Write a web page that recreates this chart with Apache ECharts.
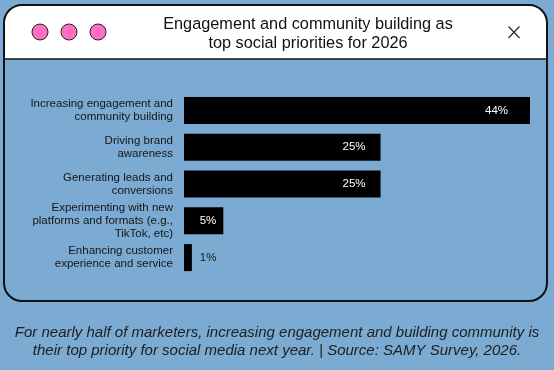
<!DOCTYPE html>
<html>
<head>
<meta charset="utf-8">
<script src="https://cdn.jsdelivr.net/npm/echarts@6/dist/echarts.min.js"></script>
<style>
html,body{margin:0;padding:0;background:#7BAAD2;}
#chart{width:554px;height:370px;}
</style>
</head>
<body>
<div id="chart"></div>
<script>
const categories = [
  "Increasing engagement and\ncommunity building",
  "Driving brand\nawareness",
  "Generating leads and\nconversions",
  "Experimenting with new\nplatforms and formats (e.g.,\nTikTok, etc)",
  "Enhancing customer\nexperience and service"
];
const values = [44, 25, 25, 5, 1];
const valueLabels = ["44%", "25%", "25%", "5%", "1%"];
const titleText = "Engagement and community building as\ntop social priorities for 2026";
const footerText = "For nearly half of marketers, increasing engagement and building community is\ntheir top priority for social media next year. | Source: SAMY Survey, 2026.";

const FONT = "Liberation Sans, Arial, Helvetica, sans-serif";
const BG = "#7BAAD2";
const PINK = "#FF70C4";

const chart = echarts.init(document.getElementById('chart'), null, {renderer: 'canvas'});

const data = values.map((v, i) => {
  const small = v < 3;
  return {
    value: v,
    label: small ? {
      position: 'right', distance: 8, color: '#1b1b1b'
    } : {
      position: 'insideRight', distance: Math.round(5 + v * 0.38), color: '#ffffff'
    }
  };
});

chart.setOption({
  backgroundColor: BG,
  animation: false,
  title: [{
    text: titleText,
    left: 308, top: 15.5, textAlign: 'center', padding: 0,
    textStyle: {fontFamily: FONT, fontSize: 16.3, fontWeight: 'normal', color: '#111111', lineHeight: 18.5}
  }, {
    text: footerText,
    left: 277, top: 324, textAlign: 'center', padding: 0,
    textStyle: {fontFamily: FONT, fontSize: 15, fontStyle: 'italic', fontWeight: 'normal', color: '#1e1e1e', lineHeight: 18}
  }],
  graphic: [
    {type: 'rect', z: -1, shape: {x: 4, y: 5, width: 543, height: 54, r: [18, 18, 0, 0]}, style: {fill: '#ffffff', stroke: null}},
    {type: 'rect', z: 0, shape: {x: 4, y: 5, width: 543, height: 296, r: 18}, style: {fill: 'none', stroke: '#111111', lineWidth: 2}},
    {type: 'line', z: 0, shape: {x1: 4, y1: 59, x2: 547, y2: 59}, style: {stroke: '#111111', lineWidth: 1.5}},
    {type: 'circle', z: 1, shape: {cx: 40, cy: 32, r: 8}, style: {fill: PINK, stroke: '#222222', lineWidth: 1}},
    {type: 'circle', z: 1, shape: {cx: 69, cy: 32, r: 8}, style: {fill: PINK, stroke: '#222222', lineWidth: 1}},
    {type: 'circle', z: 1, shape: {cx: 98, cy: 32, r: 8}, style: {fill: PINK, stroke: '#222222', lineWidth: 1}},
    {type: 'line', z: 1, shape: {x1: 508.5, y1: 26.5, x2: 519.5, y2: 38}, style: {stroke: '#222222', lineWidth: 1.1}},
    {type: 'line', z: 1, shape: {x1: 519.5, y1: 26.5, x2: 508.5, y2: 38}, style: {stroke: '#222222', lineWidth: 1.1}}
  ],
  grid: {left: 184, right: 24, top: 92, height: 184, containLabel: false},
  xAxis: {
    type: 'value', min: 0, max: 44, show: false
  },
  yAxis: {
    type: 'category', data: categories, inverse: true,
    axisLine: {show: false}, axisTick: {show: false}, splitLine: {show: false},
    axisLabel: {
      margin: 11, fontFamily: FONT, fontSize: 11.5, color: '#161616', lineHeight: 13.3, align: 'right'
    }
  },
  series: [{
    type: 'bar',
    data: data,
    barWidth: 27,
    itemStyle: {color: '#000000'},
    label: {
      show: true,
      fontFamily: FONT, fontSize: 11.5,
      formatter: p => valueLabels[p.dataIndex]
    }
  }]
});
</script>
</body>
</html>
